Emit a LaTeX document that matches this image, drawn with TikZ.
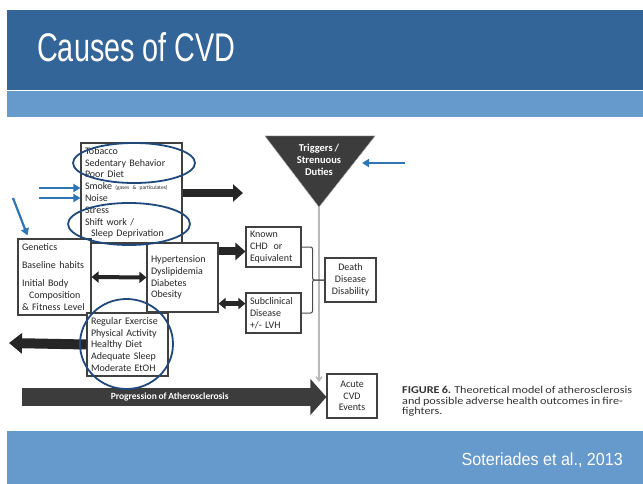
\documentclass[tikz,border=0pt]{standalone}
\usepackage{fontspec}
\setmainfont{Carlito}[WordSpace=0.8]
\newfontfamily\slidefont{Liberation Sans}
\usetikzlibrary{arrows.meta, positioning, calc}
\definecolor{slidedark}{RGB}{52,101,153}
\definecolor{slidelight}{RGB}{102,153,204}
\definecolor{ringblue}{RGB}{31,73,125}
\definecolor{pointblue}{RGB}{46,117,182}
\definecolor{blockgray}{RGB}{60,60,60}
\tikzset{
  factorbox/.style={draw=black!75, line width=1.1pt, fill=white, align=left,
    inner xsep=4pt, inner ysep=0pt, text=black!85,
    font=\fontsize{10}{11.8}\selectfont},
  outcomebox/.style={factorbox, align=center},
  fatarrow/.style={draw=black!85, line width=8pt,
    -{Triangle[length=10pt, width=17pt]}},
  twoway/.style={draw=black!85, line width=4pt,
    {Triangle[length=7pt, width=11pt]}-{Triangle[length=7pt, width=11pt]}},
  pointer/.style={draw=pointblue, line width=2.2pt,
    -{Triangle[length=7pt, width=8pt]}},
  ring/.style={draw=ringblue, line width=1.8pt},
  joint/.style={draw=gray!60!black, line width=1pt, rounded corners=2pt},
  spine/.style={draw=gray!55, line width=1.6pt,
    -{Straight Barb[length=4pt, width=6pt]}}
}

\begin{document}
\begin{tikzpicture}[x=1pt, y=-1pt]
    \useasboundingbox (0,0) rectangle (643,484);
    \fill[white] (0,0) rectangle (643,484);

    % Slide frame
    \fill[slidedark] (7,10) rectangle (643,90);
    \fill[slidelight] (7,91) rectangle (643,117);
    \fill[slidelight] (7,431) rectangle (643,484);
    \node[anchor=west, text=white, inner sep=0pt] (title) at (37,47)
        {\scalebox{0.72}[1]{\slidefont\fontsize{40}{40}\selectfont Causes of CVD}};
    \node[anchor=east, text=white, inner sep=0pt] (source) at (623,460)
        {\scalebox{0.92}[1]{\slidefont\fontsize{17.5}{18}\selectfont Soteriades et al., 2013}};

    % Risk factor boxes
    \node[factorbox, text width=93pt, minimum width=101pt, minimum height=100pt]
        (habits) at (131.5,193) {Tobacco\\ Sedentary Behavior\\ Poor Diet\\
        Smoke {\fontsize{5.5}{6}\selectfont (gases \& particulates)}\\ Noise\\
        Stress\\ Shift work /\\ \hspace*{6pt}Sleep Deprivation};
    \node[factorbox, text width=65pt, minimum width=73pt, minimum height=76pt]
        (base) at (54.5,277) {Genetics\\[6pt] Baseline habits\\[6pt] Initial Body\\
        \hspace*{7pt}Composition\\ \& Fitness Level};
    \node[factorbox, text width=63pt, minimum width=71pt, minimum height=69pt]
        (mediate) at (182.5,277.5) {Hypertension\\ Dyslipidemia\\ Diabetes\\ Obesity};
    \node[factorbox, text width=73pt, minimum width=81pt, minimum height=63pt]
        (protect) at (127.5,344.5) {Regular Exercise\\ Physical Activity\\
        Healthy Diet\\ Adequate Sleep\\ Moderate EtOH};

    % Outcome boxes
    \node[factorbox, text width=47pt, minimum width=55pt, minimum height=40pt]
        (known) at (273.5,247) {Known\\ CHD\hspace{6pt}or\\ Equivalent};
    \node[factorbox, text width=47pt, minimum width=55pt, minimum height=40pt]
        (subclin) at (273.5,313) {Subclinical\\ Disease\\ +/- LVH};
    \node[outcomebox, text width=43pt, minimum width=51pt, minimum height=44pt]
        (death) at (350.5,280) {Death\\ Disease\\ Disability};
    \node[outcomebox, text width=42pt, minimum width=50pt, minimum height=44pt]
        (acute) at (352,396) {Acute\\ CVD\\ Events};

    % Triggers
    \fill[blockgray, draw=black!35] (265,136) -- (375,136)
        -- (319,207) coordinate (apex) -- cycle;
    \node[text=white, align=center, font=\fontsize{10.5}{12}\selectfont\bfseries]
        (trig) at (319,160) {Triggers /\\ Strenuous\\ Duties};
    \coordinate (onset) at (319,382);
    \draw[spine] (apex) -- (onset);

    % Connectors
    \coordinate (outlet) at (243,193);
    \draw[fatarrow] (habits.east) -- (outlet);
    \draw[twoway] (base.east) -- (mediate.west);
    \draw[fatarrow] ([yshift=-9pt]mediate.north east)
        -- ([yshift=-9pt]mediate.north east -| known.west);
    \draw[twoway, line width=5pt] ([yshift=9pt]mediate.south east)
        -- ([yshift=9pt]mediate.south east -| subclin.west);
    \coordinate (drain) at (9,343);
    \draw[draw=black!85, line width=10pt, -{Triangle[length=13pt, width=20pt]}]
        (protect.west) -- (drain);
    \draw[joint] (known.east) -- ([xshift=11pt]known.east) |- (death.west);
    \draw[joint] (subclin.east) -- ([xshift=11pt]subclin.east) |- (death.west);

    % Progression of Atherosclerosis
    \coordinate (start) at (22,397);
    \draw[draw=blockgray, line width=18pt, -{Triangle[length=16pt, width=35pt]}]
        (start) -- (start -| acute.west)
        node[pos=0.485, text=white, font=\fontsize{9.5}{10}\selectfont\bfseries]
        (prog) {Progression of Atherosclerosis};

    % Highlight rings
    \draw[ring] (134,163) ellipse [x radius=61pt, y radius=20pt];
    \draw[ring] (129,224) ellipse [x radius=61pt, y radius=21pt];
    \draw[ring] (126.5,344) ellipse [x radius=46.5pt, y radius=45pt];

    % Blue pointers
    \coordinate (cueA) at (39,188);
    \coordinate (cueB) at (39,198);
    \coordinate (cueC) at (13,198);
    \coordinate (cueD) at (405,163);
    \coordinate (cueDtip) at (362,163);
    \draw[pointer] (cueA) -- (cueA -| habits.west);
    \draw[pointer] (cueB) -- (cueB -| habits.west);
    \draw[pointer] (cueC) -- ([xshift=10pt,yshift=3pt]base.north west);
    \draw[pointer] (cueD) -- (cueDtip);

    % Caption
    \node[anchor=north west, inner sep=0pt, text=black!80] (caption) at (402,386)
        {\scalebox{1.16}[1]{\fontsize{10.5}{10.6}\selectfont
        \begin{tabular}{@{}l@{}}\textbf{FIGURE 6.} Theoretical model of atherosclerosis\\
        and possible adverse health outcomes in fire-\\ fighters.\end{tabular}}};
\end{tikzpicture}
\end{document}
